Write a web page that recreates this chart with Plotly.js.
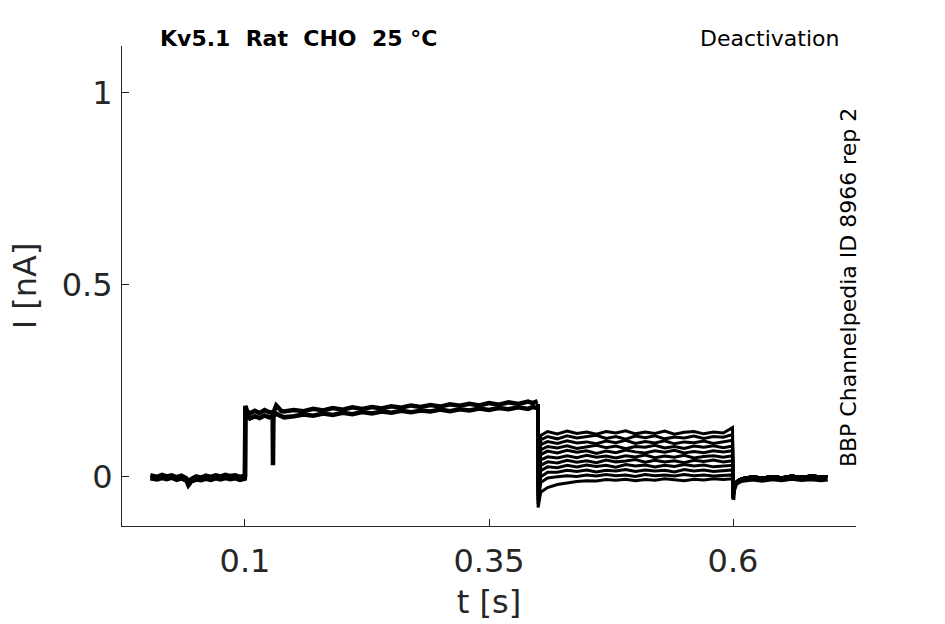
<!DOCTYPE html>
<html>
<head>
<meta charset="utf-8">
<script src="https://cdn.plot.ly/plotly-3.0.1.min.js"></script>
<style>html,body{margin:0;padding:0;background:#fff}#chart{width:945px;height:624px}</style>
</head>
<body>
<div id="chart"></div>
<script>
// Baseline (holding) segment, two noisy edges of the band
var preT = [0.003,0.01,0.015,0.02,0.025,0.03,0.035,0.04,0.042,0.045,0.05,0.055,0.06,0.065,0.07,0.075,0.08,0.085,0.09,0.095,0.0998];
var preA = [0.004,0.0,0.005,0.001,0.004,-0.001,0.003,-0.004,-0.014,-0.006,0.001,-0.002,0.003,0.0,0.004,0.001,0.005,0.002,0.004,0.0,0.003];
var preB = [-0.004,-0.007,-0.003,-0.006,-0.002,-0.008,-0.004,-0.01,-0.022,-0.012,-0.007,-0.009,-0.005,-0.008,-0.004,-0.007,-0.003,-0.006,-0.004,-0.008,-0.005];

// Activation step segment
var actT = [0.1,0.1004,0.102,0.105,0.11,0.115,0.12,0.125,0.1283,0.1287,0.1292,0.132,0.134,0.137,0.14,
  0.15,0.16,0.17,0.18,0.19,0.2,0.21,0.22,0.23,0.24,0.25,0.26,0.27,0.28,0.29,0.3,0.31,0.32,0.33,0.34,0.35,0.36,0.37,0.38,0.39,0.395,0.3998];
var actA = [0.0,0.185,0.172,0.165,0.172,0.166,0.174,0.168,0.168,0.03,0.168,0.186,0.18,0.172,0.17,
  0.174,0.171,0.177,0.173,0.179,0.175,0.181,0.177,0.182,0.178,0.184,0.18,0.186,0.182,0.187,0.183,0.189,0.185,0.19,0.186,0.192,0.188,0.194,0.19,0.196,0.192,0.197];
var actB = [0.0,0.18,0.16,0.152,0.158,0.153,0.16,0.155,0.155,0.156,0.158,0.165,0.162,0.157,0.155,
  0.158,0.162,0.159,0.165,0.161,0.167,0.163,0.169,0.165,0.17,0.167,0.172,0.168,0.173,0.17,0.175,0.171,0.176,0.173,0.178,0.174,0.179,0.176,0.181,0.177,0.182,0.179];

// Deactivation segment (one array per sweep)
var deactT = [0.4,0.4003,0.403,0.41,0.42,0.43,0.44,0.45,0.46,0.47,0.48,0.49,0.5,0.51,0.52,0.53,0.54,0.55,0.56,0.57,0.58,0.59,0.5995];
var sweep1  = [0.19,0.02,0.108,0.118,0.112,0.119,0.113,0.117,0.111,0.118,0.114,0.12,0.112,0.117,0.113,0.119,0.111,0.116,0.118,0.112,0.117,0.114,0.128];
var sweep2  = [0.19,0.01,0.096,0.105,0.099,0.107,0.101,0.104,0.108,0.1,0.105,0.098,0.106,0.102,0.107,0.099,0.104,0.101,0.106,0.1,0.105,0.103,0.11];
var sweep3  = [0.19,0.0,0.084,0.092,0.087,0.094,0.088,0.091,0.086,0.093,0.089,0.095,0.087,0.092,0.088,0.094,0.086,0.091,0.089,0.093,0.087,0.091,0.095];
var sweep4  = [0.19,-0.01,0.07,0.079,0.075,0.081,0.074,0.078,0.082,0.076,0.08,0.073,0.079,0.077,0.082,0.075,0.079,0.074,0.08,0.077,0.081,0.076,0.08];
var sweep5  = [0.19,-0.02,0.058,0.067,0.062,0.069,0.064,0.068,0.061,0.067,0.063,0.07,0.065,0.062,0.068,0.064,0.069,0.062,0.066,0.063,0.068,0.065,0.068];
var sweep6  = [0.19,-0.03,0.044,0.052,0.049,0.055,0.05,0.056,0.051,0.054,0.049,0.055,0.052,0.057,0.05,0.054,0.051,0.056,0.049,0.053,0.055,0.051,0.055];
var sweep7  = [0.19,-0.04,0.03,0.039,0.036,0.043,0.038,0.042,0.037,0.044,0.039,0.041,0.045,0.038,0.043,0.039,0.042,0.037,0.043,0.04,0.044,0.039,0.042];
var sweep8  = [0.19,-0.05,0.016,0.026,0.024,0.03,0.026,0.031,0.027,0.03,0.025,0.032,0.028,0.031,0.026,0.03,0.027,0.032,0.028,0.031,0.026,0.029,0.03];
var sweep9  = [0.19,-0.06,0.0,0.012,0.012,0.017,0.014,0.018,0.013,0.017,0.015,0.019,0.014,0.018,0.015,0.017,0.013,0.019,0.015,0.018,0.014,0.017,0.018];
var sweep10 = [0.19,-0.07,-0.015,-0.003,0.0,0.003,0.001,0.005,0.002,0.006,0.003,0.005,0.001,0.006,0.003,0.005,0.002,0.006,0.003,0.005,0.002,0.004,0.005];
var sweep11 = [0.19,-0.08,-0.04,-0.028,-0.02,-0.016,-0.012,-0.01,-0.011,-0.007,-0.009,-0.006,-0.01,-0.007,-0.009,-0.005,-0.008,-0.01,-0.006,-0.008,-0.005,-0.007,-0.005];
var sweeps = [sweep1,sweep2,sweep3,sweep4,sweep5,sweep6,sweep7,sweep8,sweep9,sweep10,sweep11];

// Tail after return to holding potential
var tailT = [0.6003,0.601,0.603,0.606,0.61,0.62,0.63,0.64,0.65,0.66,0.67,0.68,0.69,0.697];
var tailA = [-0.055,-0.03,-0.015,-0.008,-0.004,0.0,-0.003,0.001,-0.002,0.002,-0.001,0.002,0.0,0.001];
var tailB = [-0.06,-0.035,-0.02,-0.014,-0.01,-0.007,-0.01,-0.006,-0.009,-0.005,-0.008,-0.006,-0.009,-0.007];

var xTicks = [0.1,0.35,0.6];
var xTickText = ['0.1','0.35','0.6'];
var yTicks = [0,0.5,1];
var yTickText = ['0','0.5','1'];

var traces = [];
function line(x,y,w){ return {x:x,y:y,type:'scatter',mode:'lines',line:{color:'#000',width:w},hoverinfo:'skip',showlegend:false}; }
traces.push(line(preT.concat(actT), preA.concat(actA), 4.5));
traces.push(line(preT.concat(actT), preB.concat(actB), 4.5));
sweeps.forEach(function(s){ traces.push(line(deactT.concat(tailT), s.concat(tailA), 3)); });
traces.push(line(tailT, tailB, 4));

var txt = '#262626';
var font = "'DejaVu Sans', sans-serif";
var layout = {
  width:945, height:624,
  margin:{l:122,r:89,t:46,b:98},
  paper_bgcolor:'#fff', plot_bgcolor:'#fff',
  font:{family:font,color:txt},
  xaxis:{range:[-0.026,0.726],tickvals:xTicks,ticktext:xTickText,ticks:'inside',ticklen:7,tickcolor:txt,
    showline:true,linecolor:txt,linewidth:1,showgrid:false,zeroline:false,mirror:false,
    ticklabelstandoff:7,
    tickfont:{size:32,color:txt,family:font},
    title:{text:'t [s]',font:{size:32,color:txt,family:font},standoff:11}},
  yaxis:{range:[-0.128,1.122],tickvals:yTicks,ticktext:yTickText,ticks:'inside',ticklen:7,tickcolor:txt,
    showline:true,linecolor:txt,linewidth:1,showgrid:false,zeroline:false,mirror:false,
    ticklabelstandoff:2,
    tickfont:{size:32,color:txt,family:font},
    title:{text:'I [nA]',font:{size:32,color:txt,family:font},standoff:15}},
  annotations:[
    {text:'<b>Kv5.1  Rat  CHO  25 °C</b>',xref:'paper',yref:'paper',x:0.049,y:1.016,xanchor:'left',yanchor:'middle',showarrow:false,font:{size:22,color:'#000',family:font}},
    {text:'Deactivation',xref:'paper',yref:'paper',x:0.979,y:1.016,xanchor:'right',yanchor:'middle',showarrow:false,font:{size:22,color:'#000',family:font}},
    {text:'BBP Channelpedia ID 8966 rep 2',xref:'paper',yref:'paper',x:0.990,y:0.497,xanchor:'center',yanchor:'middle',textangle:-90,showarrow:false,font:{size:22,color:'#000',family:font}}
  ]
};
Plotly.newPlot('chart',traces,layout,{displayModeBar:false,staticPlot:true});
</script>
</body>
</html>
